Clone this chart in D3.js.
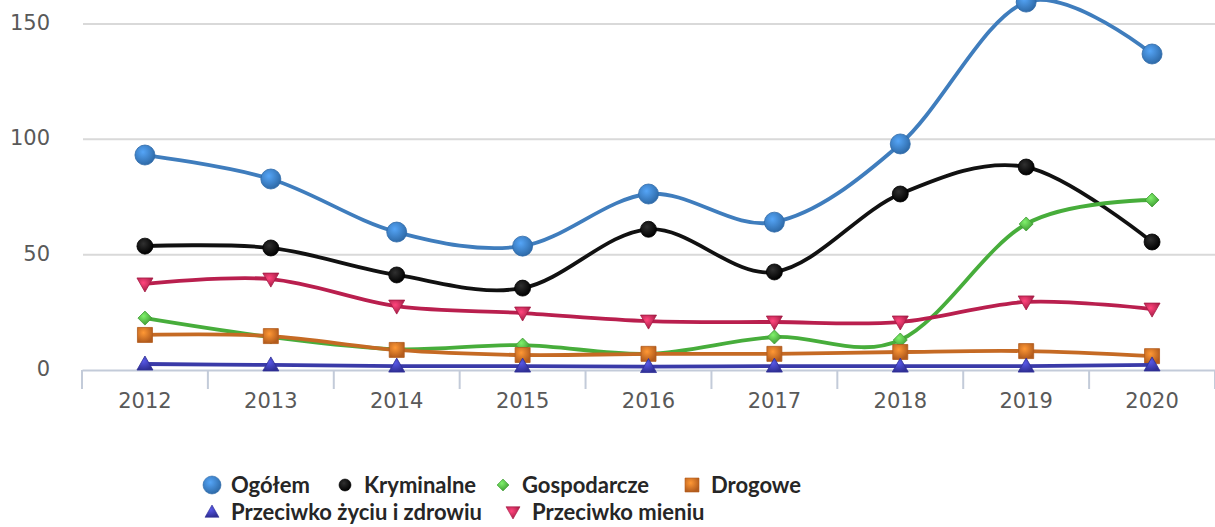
<!DOCTYPE html>
<html>
<head>
<meta charset="utf-8">
<script src="https://cdn.jsdelivr.net/npm/d3@7"></script>
<style>
  body { margin: 0; background: #fff; }
  svg { display: block; }
</style>
</head>
<body>
<svg id="chart" width="1215" height="527"></svg>
<script>
// chart data
var years = ["2012", "2013", "2014", "2015", "2016", "2017", "2018", "2019", "2020"];
var yTicks = [0, 50, 100, 150];

var ogolem = [93.2, 82.8, 59.8, 53.7, 76.3, 64.1, 98, 159.5, 137];
var kryminalne = [53.7, 52.9, 41.2, 35.5, 61, 42.5, 76.3, 88, 55.5];
var gospodarcze = [22.5, 14.3, 9, 10.8, 7, 14.3, 13, 63.3, 73.7];
var drogowe = [15.2, 14.7, 8.7, 6.5, 7, 7, 7.8, 8.2, 6];
var zycie = [2.6, 2.2, 1.7, 1.7, 1.5, 1.7, 1.7, 1.7, 2.2];
var mienie = [37.3, 39.4, 27.7, 24.7, 21.2, 20.8, 20.8, 29.5, 26.4];

var seriesNames = ["Ogółem", "Kryminalne", "Gospodarcze", "Drogowe",
    "Przeciwko życiu i zdrowiu", "Przeciwko mieniu"];

const plotLeft = 82,
    plotRight = 1215,
    y0 = 370,
    y150 = 24;

var series = [
    {name: seriesNames[0], values: ogolem, line: "#3f7dbd", fill: "#4a8fd6", dark: "#2e6aa8", shape: "circle", size: 10},
    {name: seriesNames[1], values: kryminalne, line: "#111111", fill: "#2a2a2a", dark: "#000000", shape: "circle", size: 8},
    {name: seriesNames[2], values: gospodarcze, line: "#47ad3b", fill: "#6fd15e", dark: "#3f9c33", shape: "diamond", size: 7},
    {name: seriesNames[3], values: drogowe, line: "#c56a24", fill: "#e8842e", dark: "#b35c1d", shape: "square", size: 7.5},
    {name: seriesNames[4], values: zycie, line: "#3a3aa8", fill: "#4c4cc8", dark: "#2f2f95", shape: "triangle", size: 8},
    {name: seriesNames[5], values: mienie, line: "#b91f4e", fill: "#e23d6c", dark: "#a41a44", shape: "triangleDown", size: 8}
];

var svg = d3.select("#chart");
var defs = svg.append("defs");

series.forEach(function(s, i) {
    var g = defs.append("radialGradient")
        .attr("id", "grad" + i)
        .attr("cx", "40%").attr("cy", "35%").attr("r", "65%");
    g.append("stop").attr("offset", "0%").attr("stop-color", d3.color(s.fill).brighter(0.4));
    g.append("stop").attr("offset", "100%").attr("stop-color", s.dark);
});

var xScale = d3.scaleBand().domain(years).range([plotLeft, plotRight]);
var yScale = d3.scaleLinear().domain([0, 150]).range([y0, y150]);

// gridlines
svg.append("g")
    .selectAll("line")
    .data(yTicks.filter(function(d) { return d > 0; }))
    .enter()
    .append("line")
    .attr("x1", plotLeft + 1)
    .attr("x2", plotRight)
    .attr("y1", function(d) { return yScale(d); })
    .attr("y2", function(d) { return yScale(d); })
    .style("stroke", "#d9d9d9")
    .style("stroke-width", 2);

// y labels
svg.append("g")
    .selectAll("text")
    .data(yTicks)
    .enter()
    .append("text")
    .attr("x", 50)
    .attr("y", function(d) { return yScale(d) + 6; })
    .attr("text-anchor", "end")
    .style("font-family", "DejaVu Sans")
    .style("font-size", "21px")
    .style("fill", "#595959")
    .text(function(d) { return d; });

// x axis
var xAxis = d3.axisBottom(xScale).tickSize(0).tickPadding(38);
var xg = svg.append("g")
    .attr("transform", "translate(0," + y0 + ")")
    .call(xAxis);
xg.select(".domain").style("stroke", "#c3cbd9").style("stroke-width", 2);
xg.selectAll("text")
    .style("font-family", "DejaVu Sans")
    .style("font-size", "21px")
    .style("fill", "#595959")
    .attr("dy", "0");
xg.selectAll(".bound")
    .data(d3.range(years.length + 1))
    .enter()
    .append("line")
    .attr("class", "bound")
    .attr("x1", function(d) { return plotLeft + d * xScale.step(); })
    .attr("x2", function(d) { return plotLeft + d * xScale.step(); })
    .attr("y1", 0)
    .attr("y2", 19)
    .style("stroke", "#c3cbd9")
    .style("stroke-width", 2);

var line = d3.line()
    .x(function(d, i) { return xScale(years[i]) + xScale.bandwidth() / 2; })
    .y(function(d) { return yScale(d); })
    .curve(d3.curveCatmullRom.alpha(0));

function markerPath(shape, r) {
    if (shape === "diamond") {
        return "M0," + (-r) + "L" + r + ",0L0," + r + "L" + (-r) + ",0Z";
    }
    if (shape === "square") {
        return "M" + (-r) + "," + (-r) + "h" + (2 * r) + "v" + (2 * r) + "h" + (-2 * r) + "Z";
    }
    if (shape === "triangle") {
        return "M0," + (-r) + "L" + r + "," + (r * 0.75) + "L" + (-r) + "," + (r * 0.75) + "Z";
    }
    if (shape === "triangleDown") {
        return "M0," + r + "L" + r + "," + (-r * 0.75) + "L" + (-r) + "," + (-r * 0.75) + "Z";
    }
    return d3.symbol().type(d3.symbolCircle).size(Math.PI * r * r)();
}

series.forEach(function(s, i) {
    var g = svg.append("g");
    g.append("path")
        .datum(s.values)
        .attr("d", line)
        .style("fill", "none")
        .style("stroke", s.line)
        .style("stroke-width", 3.8);
    g.selectAll(".pt")
        .data(s.values)
        .enter()
        .append("path")
        .attr("class", "pt")
        .attr("transform", function(d, j) {
            return "translate(" + (xScale(years[j]) + xScale.bandwidth() / 2) + "," + yScale(d) + ")";
        })
        .attr("d", markerPath(s.shape, s.size))
        .style("fill", "url(#grad" + i + ")")
        .style("stroke", s.dark)
        .style("stroke-width", 0.8);
});

// legend
var legendItems = [
    {s: 0, x: 212, y: 485},
    {s: 1, x: 345, y: 485},
    {s: 2, x: 503, y: 485},
    {s: 3, x: 692, y: 485},
    {s: 4, x: 212, y: 512},
    {s: 5, x: 513, y: 512}
];
var legendSizes = [9, 6, 6, 7, 7, 7];
var legend = svg.append("g");
legendItems.forEach(function(it) {
    var s = series[it.s];
    legend.append("path")
        .attr("transform", "translate(" + it.x + "," + it.y + ")")
        .attr("d", markerPath(s.shape, legendSizes[it.s]))
        .style("fill", "url(#grad" + it.s + ")")
        .style("stroke", s.dark)
        .style("stroke-width", 0.6);
    legend.append("text")
        .attr("x", it.x + 19)
        .attr("y", it.y + 8)
        .style("font-family", "Lato")
        .style("font-weight", "bold")
        .style("font-size", "22px")
        .style("fill", "#262626")
        .text(s.name);
});
</script>
</body>
</html>
